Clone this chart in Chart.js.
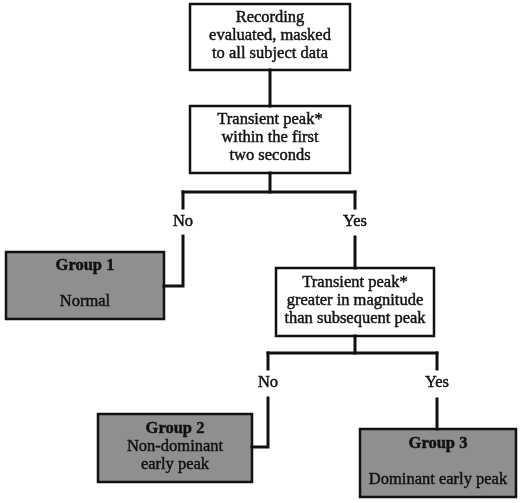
<!DOCTYPE html>
<html>
<head>
<meta charset="utf-8">
<script src="https://cdn.jsdelivr.net/npm/chart.js@4.4.1/dist/chart.umd.min.js"></script>
<style>
  html, body { margin: 0; padding: 0; background: #fff; }
  #wrap { width: 520px; height: 503px; position: relative; }
</style>
</head>
<body>
<div id="wrap"><canvas id="flow"></canvas></div>
<script>
// text of each step in the flow
const nodeLines = [
  ['Recording', 'evaluated, masked', 'to all subject data'],
  ['Transient peak*', 'within the first', 'two seconds'],
  ['Transient peak*', 'greater in magnitude', 'than subsequent peak'],
  ['Group 1', '', 'Normal'],
  ['Group 2', 'Non-dominant', 'early peak'],
  ['Group 3', '', 'Dominant early peak']
];
const nodeIsGroup = [false, false, false, true, true, true];

// box extents in diagram units (x 0..520, y 0..503 downwards)
const nodeLeft   = [190, 190, 276,   6,  98, 360];
const nodeTop    = [  4, 106, 268, 252, 414, 429];
const nodeRight  = [350, 350, 434, 164, 252, 516];
const nodeBottom = [ 70, 173, 336, 319, 482, 497];

// decision branch labels
const branchLabels = ['No', 'Yes', 'No', 'Yes'];
const branchX = [183, 355, 268, 437];
const branchY = [222, 222, 383, 383];

// connector polylines
const connectors = [
  [[270, 70], [270, 106]],
  [[270, 173], [270, 192]],
  [[183, 192], [355, 192]],
  [[183, 192], [183, 208]],
  [[183, 236], [183, 286], [164, 286]],
  [[355, 192], [355, 208]],
  [[355, 237], [355, 268]],
  [[355, 336], [355, 353]],
  [[268, 353], [437, 353]],
  [[268, 353], [268, 369]],
  [[268, 398], [268, 447], [252, 447]],
  [[437, 353], [437, 369]],
  [[437, 399], [437, 429]]
];

const INK = '#111';
const FONT = '"Liberation Serif", "DejaVu Serif", serif';

// scanned text looks a bit heavy, so fill + thin stroke
function inkText(ctx, txt, px, py) {
  ctx.fillText(txt, px, py);
  ctx.strokeText(txt, px, py);
}

const flowPlugin = {
  id: 'flowBoxes',
  beforeDatasetsDraw(chart) {
    const { ctx, scales: { x, y } } = chart;
    ctx.save();
    nodeLines.forEach((lines, i) => {
      const l = x.getPixelForValue(nodeLeft[i]);
      const r = x.getPixelForValue(nodeRight[i]);
      const t = y.getPixelForValue(nodeTop[i]);
      const b = y.getPixelForValue(nodeBottom[i]);
      ctx.fillStyle = nodeIsGroup[i] ? '#8f8f8f' : '#fff';
      ctx.fillRect(l, t, r - l, b - t);
      ctx.lineWidth = 2.5;
      ctx.strokeStyle = INK;
      ctx.strokeRect(l, t, r - l, b - t);
    });
    ctx.restore();
  },
  afterDatasetsDraw(chart) {
    const { ctx, scales: { x, y } } = chart;
    ctx.save();
    ctx.fillStyle = INK;
    ctx.strokeStyle = INK;
    ctx.lineWidth = 0.45;
    ctx.textAlign = 'center';
    ctx.textBaseline = 'middle';
    const lh = 18;
    nodeLines.forEach((lines, i) => {
      const cx = x.getPixelForValue((nodeLeft[i] + nodeRight[i]) / 2);
      const cy = y.getPixelForValue((nodeTop[i] + nodeBottom[i]) / 2) - 1.5;
      const start = cy - (lines.length - 1) * lh / 2;
      lines.forEach((txt, j) => {
        const bold = nodeIsGroup[i] && j === 0;
        ctx.font = (bold ? 'bold ' : '') + '16.5px ' + FONT;
        inkText(ctx, txt, cx, start + j * lh);
      });
    });
    ctx.font = '16.5px ' + FONT;
    branchLabels.forEach((txt, i) => {
      inkText(ctx, txt, x.getPixelForValue(branchX[i]), y.getPixelForValue(branchY[i]));
    });
    ctx.restore();
  }
};

new Chart(document.getElementById('flow'), {
  type: 'scatter',
  data: {
    datasets: connectors.map(pts => ({
      data: pts.map(p => ({ x: p[0], y: p[1] })),
      showLine: true,
      borderColor: INK,
      borderWidth: 3,
      borderCapStyle: 'square',
      borderJoinStyle: 'miter',
      pointRadius: 0,
      fill: false
    }))
  },
  options: {
    responsive: true,
    maintainAspectRatio: false,
    animation: false,
    events: [],
    layout: { padding: 0 },
    plugins: { legend: { display: false }, tooltip: { enabled: false } },
    scales: {
      x: { type: 'linear', min: 0, max: 520, display: false },
      y: { type: 'linear', min: 0, max: 503, reverse: true, display: false }
    }
  },
  plugins: [flowPlugin]
});
</script>
</body>
</html>
